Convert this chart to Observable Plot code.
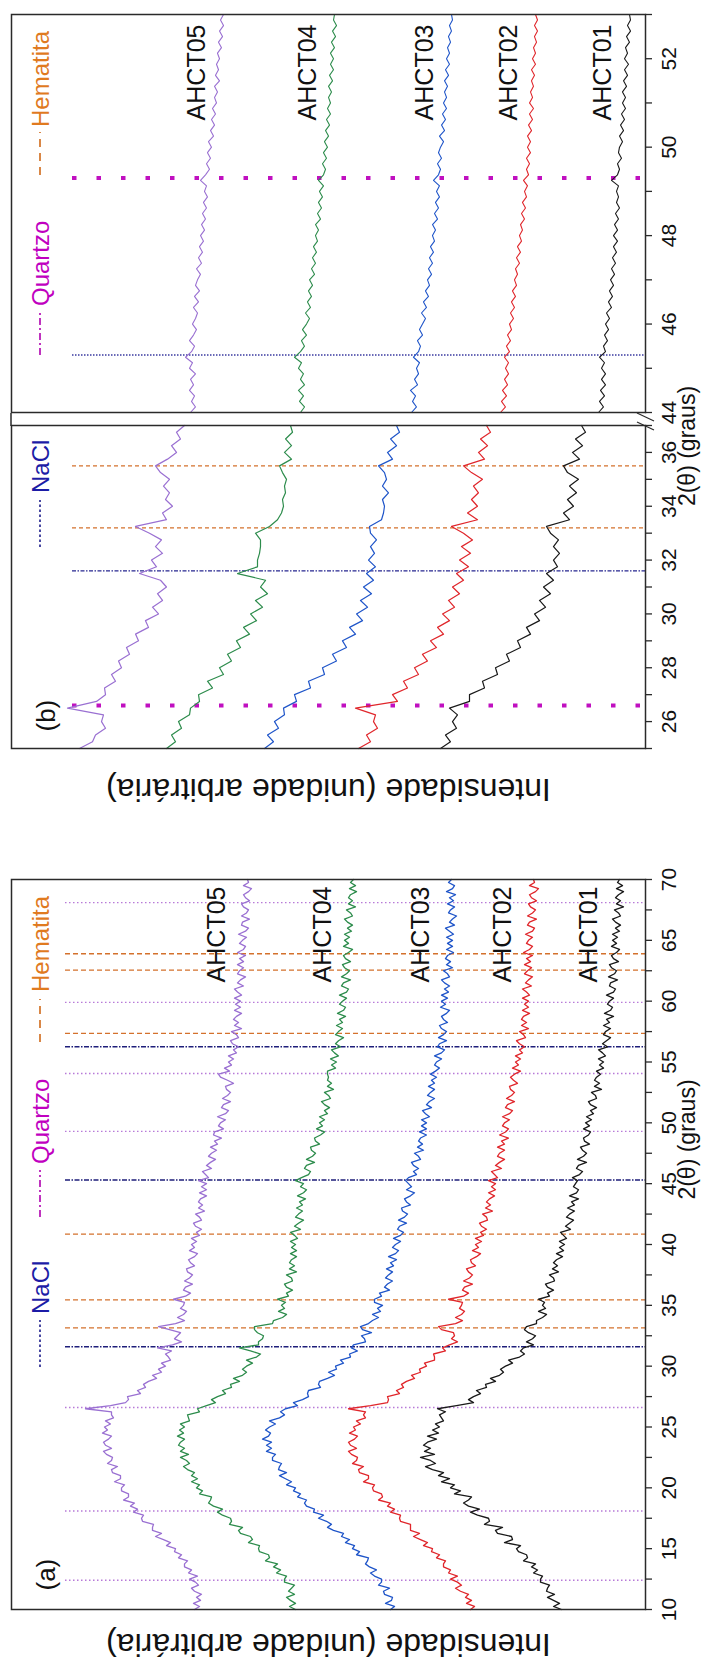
<!DOCTYPE html>
<html>
<head>
<meta charset="utf-8">
<script src="https://cdn.jsdelivr.net/npm/d3@7"></script>
<script src="https://cdn.jsdelivr.net/npm/@observablehq/plot@0.6"></script>
<style>
  html, body { margin: 0; padding: 0; background: #fff; width: 701px; height: 1663px; overflow: hidden; }
  #fig { position: absolute; left: 0; top: 0; width: 1663px; height: 701px; transform-origin: 0 0;
         transform: translate(0px, 1663px) rotate(-90deg); font-family: "Liberation Sans", Arial, sans-serif; background: #fff; }
  #fig > svg { position: absolute; left: 0; top: 0; }
</style>
</head>
<body>
<div id="fig"></div>
<script>
// ---------------- data ----------------
const samples = ["AHCT01", "AHCT02", "AHCT03", "AHCT04", "AHCT05"];
const sampleColors = ["#1a1a1a", "#e0262b", "#1f55c9", "#2d8c4c", "#9a70d2"];

// panel (a): 2θ from 10 to 70, step 0.25 (one row = 5 degrees)
const thetaA = d3.range(10, 70.0001, 0.25);
const aAHCT05 = [
  451,446,452,445,449,444,451,454,447,450,456,448,457,454,461,461,458,467,464,471,
  470,479,475,482,490,484,493,493,492,503,504,502,512,508,515,511,522,517,517,524,
  524,521,531,525,525,533,534,528,538,534,533,539,542,534,540,542,537,534,543,538,
  541,535,540,532,534,534,560,535,520,517,518,505,508,500,502,497,489,493,484,487,
  480,484,475,477,480,474,488,473,464,471,468,465,476,487,470,461,468,462,459,465,
  462,461,472,460,455,462,460,453,461,456,453,458,459,451,455,457,451,448,456,451,
  454,449,454,446,449,444,450,452,444,446,450,441,447,443,447,445,439,446,439,444,
  439,447,437,440,443,434,439,435,430,437,434,429,435,428,431,424,432,431,422,427,
  425,420,428,420,417,424,422,415,423,418,415,419,420,412,418,425,427,416,421,414,
  417,412,417,409,412,407,413,415,407,409,414,404,411,407,412,409,404,411,405,410,
  405,411,404,408,411,402,408,405,400,408,406,402,408,402,406,400,408,402,400,406,
  403,399,407,400,397,404,403,396,404,399,397,402,404,396,400,402,397,394,402,397,
  398];
const aAHCT04 = [
  350,356,350,355,359,351,357,354,351,361,361,359,369,365,372,368,380,376,377,386,
  387,386,397,393,395,405,407,403,416,414,415,423,428,423,432,437,435,434,446,443,
  449,446,454,448,454,451,458,462,456,459,465,457,465,461,467,465,461,468,462,466,
  461,465,456,457,458,446,448,439,430,434,428,420,423,414,415,406,412,403,399,403,
  399,393,399,389,385,395,406,387,387,383,382,388,391,391,373,372,363,359,367,361,
  364,360,368,357,359,353,359,361,353,354,359,349,356,351,356,354,349,355,349,354,
  350,355,348,351,355,345,351,347,342,350,347,343,349,343,346,340,348,342,339,345,
  342,350,344,337,335,341,339,331,339,333,330,334,335,326,330,331,325,321,329,323,
  326,321,326,318,321,316,321,324,315,317,321,312,318,314,318,317,318,318,310,314,
  309,315,307,311,314,305,310,307,302,310,307,303,309,303,306,300,308,302,300,306,
  303,299,306,299,297,304,302,295,304,299,296,301,303,295,300,302,297,293,302,297,
  301,296,301,294,298,293,298,301,293,295,299,290,297,293,297,295,289,296,290,295,
  292];
const aAHCT03 = [
  255,251,260,254,253,261,262,256,267,264,264,271,275,269,276,280,278,277,289,286,
  293,291,300,296,304,302,312,318,314,319,327,322,332,331,339,341,339,348,345,352,
  350,359,354,360,366,359,367,366,364,373,373,370,379,374,379,374,383,377,375,380,
  376,370,376,366,361,365,360,348,352,343,337,338,337,325,327,326,318,311,317,309,
  310,302,305,295,296,288,294,292,280,281,284,274,283,285,277,273,267,273,265,268,
  263,271,271,264,266,256,261,258,253,260,257,253,259,252,255,249,257,250,247,253,
  250,245,252,245,242,248,246,239,247,241,238,243,244,235,239,241,235,231,239,234,
  237,240,237,229,232,227,232,234,225,227,231,222,228,223,227,225,219,226,219,224,
  219,224,216,220,223,214,219,216,211,218,215,211,217,211,214,209,215,210,206,211,
  209,204,211,204,201,208,206,199,207,202,199,204,206,198,202,204,199,196,205,200,
  204,198,204,197,201,196,201,204,196,198,202,193,199,195,200,198,192,199,193,198,
  193,199,192,196,200,191,196,193,189,197,195,191,198,192,196,190,199,193,191,197,
  194];
const aAHCT02 = [
  175,171,179,174,180,177,185,190,184,188,195,188,197,195,202,202,200,209,206,214,
  213,222,218,225,232,226,235,235,235,245,246,245,255,251,258,255,267,263,264,272,
  273,271,282,277,277,286,287,282,293,289,288,294,297,289,295,297,291,288,296,290,
  292,285,289,280,282,280,297,275,258,257,258,246,249,242,244,239,231,234,225,226,
  219,221,211,211,212,200,203,196,188,194,191,192,204,207,190,183,190,184,181,186,
  184,183,197,182,177,183,181,173,182,176,173,177,179,170,174,175,169,165,173,167,
  170,164,170,162,165,159,164,166,158,159,163,153,160,155,159,156,151,157,150,154,
  150,157,148,151,154,144,150,146,141,148,146,141,148,141,144,137,146,140,137,143,
  141,136,143,136,133,140,138,131,139,134,131,135,136,128,132,135,131,125,133,127,
  130,125,130,123,126,121,126,129,120,122,126,117,124,119,124,122,116,123,117,121,
  117,123,116,119,123,114,120,117,113,121,118,114,121,115,119,113,122,116,113,119,
  117,113,120,113,111,118,116,109,118,113,110,115,117,109,114,116,110,107,116,111,
  112];
const aAHCT01 = [
  84,92,86,92,98,91,99,98,96,105,105,103,112,108,114,110,122,118,119,127,
  129,125,141,133,134,148,150,143,161,156,157,168,175,166,177,182,177,174,191,185,
  195,191,204,196,207,202,213,220,210,215,225,211,221,215,222,218,209,218,207,213,
  206,210,202,204,206,200,208,189,172,177,172,165,169,159,160,150,155,146,142,145,
  140,133,137,126,121,125,122,112,119,113,110,117,121,119,109,109,103,99,107,100,
  103,101,107,96,98,92,98,100,91,92,96,87,93,88,92,89,83,89,82,86,
  81,86,79,82,85,75,80,76,72,79,76,71,78,71,74,67,76,69,67,72,
  70,68,73,66,63,69,67,59,68,62,59,63,65,56,61,62,57,55,62,56,
  60,54,59,52,55,49,55,57,49,50,54,44,51,46,51,49,45,49,42,46,
  42,47,40,43,47,38,43,39,35,42,40,35,42,36,39,32,41,35,33,38,
  36,32,39,32,30,36,35,28,37,31,29,34,36,27,32,34,29,26,34,29,
  33,28,33,26,30,25,30,33,25,27,31,22,29,25,30,27,22,29,23,28,
  26];

// panel (b), left part: 2θ from 25 to 37, step 0.25
const thetaBL = d3.range(25, 37.0001, 0.25);
const blAHCT05 = [566,553,550,540,544,542,578,549, 540,541,530,534,524,527,516,519,
  507,510,497,500,487,493,483,488, 479,485,506,489,494,483,490,484, 496,510,479,483,473,480,476,482,
  476,485,490,478,469,474,465,469, 461];
const blAHCT04 = [479,470,474,464,467,456,455,446, 447,433,438,422,426,414,418,405,
  409,396,402,389,395,383,390,378, 385,380,408,388,388,386,385,385, 390,376,368,364,362,363,360,361,
  359,363,366,354,361,354,360,353, 355];
const blAHCT03 = [381,372,378,367,371,361,362,349, 351,335,337,321,323,309,313,299,
  303,290,296,283,289,278,285,274, 282,272,279,270,277,271,275,269, 275,276,264,262,261,263,257,263,
  259,261,267,253,258,249,255,246, 249];
const blAHCT02 = [287,275,279,268,272,270,290,248, 253,238,242,227,231,218,223,209,
  215,202,208,196,203,191,197,186, 193,182,189,177,186,175,184,173, 182,194,168,178,168,174,167,172,
  163,174,182,161,167,158,165,155, 159];
const blAHCT01 = [205,195,200,189,193,188,196,176, 176,161,163,148,150,136,139,125,
  128,115,119,106,111,100,106,95, 102,92,99,88,92,86,92,87, 95,99,76,82,72,78,69,76,
  67,78,82,66,73,63,70,60, 64];

// panel (b), right part: 2θ from 44 to 53, step 0.125 (one row = 1 degree)
const thetaBR = d3.range(44, 53.0001, 0.125);
const brAHCT05 = [455,450,454,451,456,452,455,450, 456,453,460,454,451,456,452,449,
  453,450,448,452,447,451,446,450, 448,445,449,444,447,443,446,442, 445,441,444,440,443,439,442,438,
  441,439,445,440,436,439,435,438, 434,437,432,435,431,434,430,433, 429,431,428,431,426,430,427,429,
  426,428,424,427,423,426,422,425, 422];
const brAHCT04 = [345,341,346,342,347,341,345,342, 347,344,351,345,341,344,339,343,
  339,336,340,335,338,334,337,333, 336,331,334,330,333,329,332,328, 330,327,330,325,328,324,327,323,
  326,322,327,322,320,323,319,322, 318,321,317,320,316,319,315,318, 315,317,314,317,313,316,312,315,
  312,315,311,314,310,313,309,312, 311];
const brAHCT03 = [234,229,233,230,235,228,231,227, 229,226,232,227,225,228,223,226,
  223,220,224,219,222,217,220,216, 218,214,217,213,216,212,215,211, 213,210,213,208,211,207,210,206,
  209,206,212,207,205,208,204,207, 205,202,206,201,204,200,203,199, 202,199,201,198,201,197,200,196,
  199,196,198,195,197,194,196,193, 194];
const brAHCT02 = [145,140,144,139,143,138,141,137, 140,137,141,136,139,135,138,134,
  136,132,135,131,134,130,133,129, 131,128,130,126,129,125,128,124, 126,123,125,121,124,120,123,119,
  121,118,122,117,119,116,119,115, 118,115,118,114,117,113,116,112, 116,113,115,112,114,111,114,110,
  113,110,112,109,111,108,111,108, 110];
const brAHCT01 = [47,42,46,41,45,40,44,40, 44,41,46,40,42,38,41,37,
  40,36,39,34,37,33,36,32, 35,31,34,30,33,29,32,28, 32,28,31,27,30,26,29,27,
  29,27,34,28,26,28,24,27, 26,23,26,22,25,21,24,20, 23,20,23,19,22,18,21,17,
  21,18,20,16,19,15,18,15, 16];

// reference phase positions (2θ)
const quartzoA = [12.4, 18.1, 26.6, 49.3, 54.05, 59.9, 68.1];
const naclA = [31.6, 45.3, 56.25];
const hematitaA = [33.15, 35.45, 40.85, 57.35, 62.55, 63.9];
const quartzoBL = [26.6];
const naclBL = [31.6];
const hematitaBL = [33.2, 35.5];
const quartzoBR = [49.3];
const naclBR = [45.3];
const hematitaBR = [];

// ticks
const majorA = [10, 15, 20, 25, 30, 35, 40, 45, 50, 55, 60, 65, 70];
const minorA = [12.5, 17.5, 22.5, 27.5, 32.5, 37.5, 42.5, 47.5, 52.5, 57.5, 62.5, 67.5];
const majorBL = [26, 28, 30, 32, 34, 36];
const minorBL = [25, 27, 29, 31, 33, 35, 37];
const majorBR = [44, 46, 48, 50, 52];
const minorBR = [45, 47, 49, 51, 53];

const yLabel = "Intensidade (unidade arbitrária)";
const xLabel = "2(θ) (graus)";

// ---------------- layout (unrotated figure: 1663 x 701, then turned -90°) ----------------
const W = 1663, H = 701, MT = 11, MB = 56;
const FONT = "Liberation Sans, Arial, Helvetica, sans-serif";

function table(theta, series) {
  const rows = [];
  samples.forEach(s => series[s].forEach((v, i) => rows.push({s, x: theta[i], y: v})));
  return rows;
}

function panel(o) {
  const rows = table(o.theta, o.series);
  const labels = o.showLabels ? samples.map(s => ({s, y: o.series[s][o.series[s].length - 1]})) : [];
  const marks = [
    Plot.ruleX(o.quartz, {x: d => d, insetTop: o.inset, ...o.qStyle}),
    Plot.ruleX(o.nacl, {x: d => d, insetTop: o.inset, ...o.nStyle}),
    Plot.ruleX(o.hem, {x: d => d, insetTop: o.inset, ...o.hStyle}),
    Plot.lineY(rows, {x: "x", y: "y", z: "s", stroke: "s", strokeWidth: o.cw}),
    Plot.text(labels, {y: "y", text: "s", frameAnchor: "right", textAnchor: "end",
      dx: o.labDx, dy: o.labDy, fontSize: 25, fill: "#111", fontFamily: FONT}),
    Plot.frame({stroke: "#2a2a2a", strokeWidth: 1.5}),
    Plot.axisX({ticks: o.major, tickSize: 7, tickPadding: 9, fontSize: 21, label: null,
      tickFormat: d => String(d), stroke: "#2a2a2a", strokeWidth: 1.3, fill: "#111"}),
    Plot.axisX({ticks: o.minor, tickSize: 7, label: null, tickFormat: () => "",
      stroke: "#2a2a2a", strokeWidth: 1.3})
  ];
  if (o.tag) {
    marks.push(Plot.text([o.tag], {frameAnchor: "top-left", textAnchor: "start", dx: o.tagDx, dy: 25,
      fontSize: 26, fill: "#111", fontFamily: FONT}));
  }
  if (o.showY) {
    marks.push(Plot.text([yLabel], {frameAnchor: "left", textAnchor: "middle", rotate: -90, dx: o.yDx,
      fontSize: 32, fill: "#111", fontFamily: FONT}));
  }
  if (o.showX) {
    marks.push(Plot.text([xLabel], {frameAnchor: "bottom", textAnchor: "middle", dx: o.xDx, dy: 49,
      fontSize: 23, fill: "#111", fontFamily: FONT}));
  }
  return Plot.plot({
    width: W, height: H,
    marginLeft: o.uL, marginRight: W - o.uR, marginTop: MT, marginBottom: MB,
    x: {domain: o.domain},
    y: {domain: [0, 634], axis: null},
    color: {domain: samples, range: sampleColors},
    style: {background: "transparent", overflow: "visible", fontFamily: FONT, fontSize: "21px", color: "#111"},
    marks
  });
}

const styleA = {
  q: {stroke: "#b77ad8", strokeWidth: 1.4, strokeDasharray: "1.5,2.5"},
  n: {stroke: "#1e1e7a", strokeWidth: 1.4, strokeDasharray: "5,1.5,1.5,1.5"},
  h: {stroke: "#d4712c", strokeWidth: 1.4, strokeDasharray: "5,3"}
};
const styleB = {
  q: {stroke: "#c010c0", strokeWidth: 4, strokeDasharray: "4.5,20"},
  n: {stroke: "#262690", strokeWidth: 1.4, strokeDasharray: "4,1.5,1.5,1.5"},
  h: {stroke: "#d4712c", strokeWidth: 1.2, strokeDasharray: "4,3"}
};
const styleBR = {
  q: styleB.q,
  n: {stroke: "#3a3aa0", strokeWidth: 1.4, strokeDasharray: "1.5,1.5"},
  h: styleB.h
};

const fig = document.getElementById("fig");

fig.appendChild(panel({
  uL: 53, uR: 783, domain: [10, 70], theta: thetaA,
  series: {AHCT01: aAHCT01, AHCT02: aAHCT02, AHCT03: aAHCT03, AHCT04: aAHCT04, AHCT05: aAHCT05},
  quartz: quartzoA, nacl: naclA, hem: hematitaA, inset: 54,
  qStyle: styleA.q, nStyle: styleA.n, hStyle: styleA.h, cw: 1.3,
  major: majorA, minor: minorA, showLabels: true, labDx: -7, labDy: -31,
  tag: "(a)", tagDx: 19, showY: true, yDx: -35, showX: true, xDx: 105
}));

fig.appendChild(panel({
  uL: 914, uR: 1237, domain: [25, 37], theta: thetaBL,
  series: {AHCT01: blAHCT01, AHCT02: blAHCT02, AHCT03: blAHCT03, AHCT04: blAHCT04, AHCT05: blAHCT05},
  quartz: quartzoBL, nacl: naclBL, hem: hematitaBL, inset: 61,
  qStyle: styleB.q, nStyle: styleB.n, hStyle: styleB.h, cw: 1.2,
  major: majorBL, minor: minorBL, showLabels: false,
  tag: "(b)", tagDx: 17, showY: true, yDx: -41, showX: true, xDx: 141
}));

fig.appendChild(panel({
  uL: 1250, uR: 1648, domain: [44, 53], theta: thetaBR,
  series: {AHCT01: brAHCT01, AHCT02: brAHCT02, AHCT03: brAHCT03, AHCT04: brAHCT04, AHCT05: brAHCT05},
  quartz: quartzoBR, nacl: naclBR, hem: hematitaBR, inset: 61,
  qStyle: styleBR.q, nStyle: styleBR.n, hStyle: styleBR.h, cw: 1.1,
  major: majorBR, minor: minorBR, showLabels: true, labDx: -10, labDy: -27,
  tag: null, showY: false, showX: false
}));

// ---------------- legends and axis-break marks (overlay) ----------------
const legendLayout = [
  // panel (a)
  {name: "NaCl", u0: 296, u1: 343, t: 349, color: "#1c1ca6", line: "#1c1c8a", dash: "2.5,2.5", w: 1.6},
  {name: "Quartzo", u0: 446, u1: 493, t: 499, color: "#c000c0", line: "#b000b0", dash: "7,3,2,3", w: 1.6},
  {name: "Hematita", u0: 621, u1: 664, t: 671, color: "#e07a1f", line: "#d06a1a", dash: "8,6", w: 1.6},
  // panel (b)
  {name: "NaCl", u0: 1116, u1: 1163, t: 1170, color: "#1c1ca6", line: "#1c1c8a", dash: "2.5,2.5", w: 1.6},
  {name: "Quartzo", u0: 1308, u1: 1351, t: 1357, color: "#c000c0", line: "#b000b0", dash: "7,3,2,3", w: 1.6},
  {name: "Hematita", u0: 1488, u1: 1531, t: 1536, color: "#e07a1f", line: "#d06a1a", dash: "8,6", w: 1.6}
];
const ov = d3.select(fig).append("svg").attr("width", W).attr("height", H);
const legV = 40;
legendLayout.forEach(d => {
  ov.append("line").attr("x1", d.u0).attr("x2", d.u1).attr("y1", legV).attr("y2", legV)
    .attr("stroke", d.line).attr("stroke-width", d.w).attr("stroke-dasharray", d.dash);
  ov.append("text").attr("x", d.t).attr("y", legV).attr("dy", "0.36em")
    .attr("font-family", FONT).attr("font-size", 24).attr("fill", d.color).text(d.name);
});
// top border continues across the break; "//" marks on the axis
ov.append("line").attr("x1", 1237).attr("x2", 1250).attr("y1", MT).attr("y2", MT)
  .attr("stroke", "#2a2a2a").attr("stroke-width", 1.5);
[[1233, 1241], [1242, 1250]].forEach(([a, b]) => {
  ov.append("line").attr("x1", a).attr("y1", H - MB + 9).attr("x2", b).attr("y2", H - MB - 8)
    .attr("stroke", "#2a2a2a").attr("stroke-width", 1.3);
});
</script>
</body>
</html>
